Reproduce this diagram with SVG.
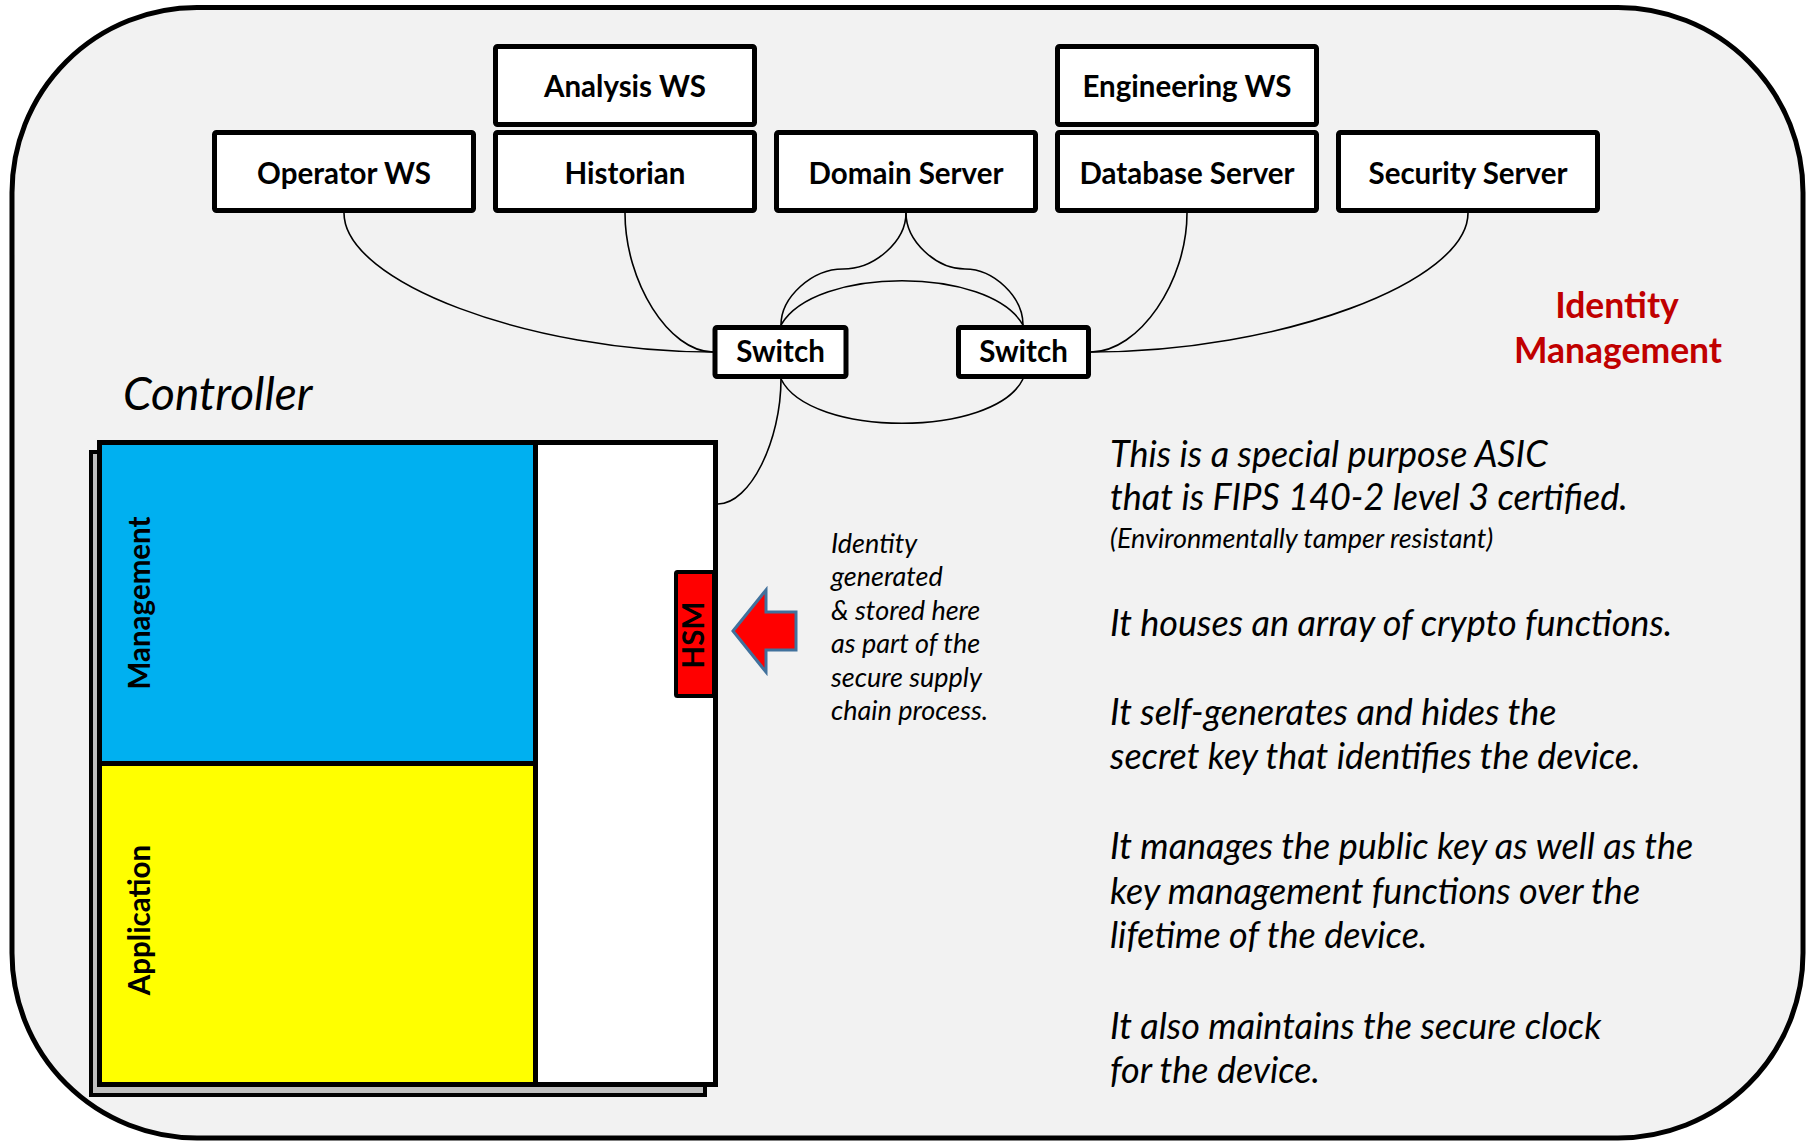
<svg xmlns="http://www.w3.org/2000/svg" width="1810" height="1141" viewBox="0 0 1810 1141">
  <style>
    .box { fill: #FFFFFF; stroke: #000000; stroke-width: 5; }
    .lbl { font-family: Lato, "Liberation Sans", sans-serif; font-weight: bold; font-size: 29.5px; fill: #000000; text-anchor: middle; }
    .wire { fill: none; stroke: #000000; stroke-width: 1.6; }
    .note { font-family: Lato, "Liberation Sans", sans-serif; font-style: italic; fill: #000000; }
    .side { font-size: 27px; }
    .body { font-size: 36px; }
    .small { font-size: 27px; }
  </style>

  <!-- frame -->
  <rect x="12" y="7.5" width="1791" height="1130.5" rx="185" ry="185" fill="#F2F2F2" stroke="#000000" stroke-width="5"/>

  <!-- connectors -->
  <g id="connectors">
    <path class="wire" d="M344,213 C344,282 529,352 713,352"/>
    <path class="wire" d="M625,213 C625,282 669,352 713,352"/>
    <path class="wire" d="M906,213 C906,241 875,269 843,269 C812,269 781,297 781,325"/>
    <path class="wire" d="M906,213 C906,241 936,269 965,269 C994,269 1023,297 1023,325"/>
    <path class="wire" d="M1187,213 C1187,282 1139,352 1091,352"/>
    <path class="wire" d="M1468,213 C1468,282 1280,352 1091,352"/>
    <path class="wire" d="M781,325 C815,266 989,266 1023,325"/>
    <path class="wire" d="M781,379 C810,438 994,438 1023,379"/>
    <path class="wire" d="M781,379 C781,441 750,504 718,504"/>
  </g>

  <!-- workstations and servers -->
  <g id="analysis-ws">
    <rect class="box" x="495.5" y="46.5" width="259" height="78" rx="2"/>
    <text class="lbl" x="625" y="97">Analysis WS</text>
  </g>
  <g id="engineering-ws">
    <rect class="box" x="1057.5" y="46.5" width="259" height="78" rx="2"/>
    <text class="lbl" x="1187" y="97">Engineering WS</text>
  </g>
  <g id="operator-ws">
    <rect class="box" x="214.5" y="132.5" width="259" height="78" rx="2"/>
    <text class="lbl" x="344" y="184">Operator WS</text>
  </g>
  <g id="historian">
    <rect class="box" x="495.5" y="132.5" width="259" height="78" rx="2"/>
    <text class="lbl" x="625" y="184">Historian</text>
  </g>
  <g id="domain-server">
    <rect class="box" x="776.5" y="132.5" width="259" height="78" rx="2"/>
    <text class="lbl" x="906" y="184">Domain Server</text>
  </g>
  <g id="database-server">
    <rect class="box" x="1057.5" y="132.5" width="259" height="78" rx="2"/>
    <text class="lbl" x="1187" y="184">Database Server</text>
  </g>
  <g id="security-server">
    <rect class="box" x="1338.5" y="132.5" width="259" height="78" rx="2"/>
    <text class="lbl" x="1468" y="184">Security Server</text>
  </g>

  <!-- switches -->
  <g id="switch-1">
    <rect class="box" x="715" y="327.5" width="131" height="49" rx="2"/>
    <text class="lbl" x="780.5" y="362">Switch</text>
  </g>
  <g id="switch-2">
    <rect class="box" x="958.5" y="327.5" width="130" height="49" rx="2"/>
    <text class="lbl" x="1023.5" y="362">Switch</text>
  </g>

  <!-- heading -->
  <g id="identity-management">
    <text x="1617" y="318" font-family="Lato, 'Liberation Sans', sans-serif" font-weight="bold" font-size="35.5" fill="#C00000" text-anchor="middle">Identity</text>
    <text x="1618" y="363" font-family="Lato, 'Liberation Sans', sans-serif" font-weight="bold" font-size="35.5" fill="#C00000" text-anchor="middle">Management</text>
  </g>

  <!-- controller -->
  <g id="controller">
    <text x="123" y="410" font-family="Lato, 'Liberation Sans', sans-serif" font-style="italic" font-size="46" fill="#000000">Controller</text>
    <rect x="91" y="452" width="614" height="643" fill="#BFBFBF" stroke="#000000" stroke-width="4"/>
    <rect x="99.5" y="442.5" width="616" height="642" fill="#FFFFFF" stroke="#000000" stroke-width="5"/>
    <rect x="99.5" y="442.5" width="436" height="321" fill="#00B0F0" stroke="#000000" stroke-width="5"/>
    <rect x="99.5" y="763.5" width="436" height="321" fill="#FFFF00" stroke="#000000" stroke-width="5"/>
    <text class="lbl" transform="translate(150,603) rotate(-90)" font-size="30.5">Management</text>
    <text class="lbl" transform="translate(150,920) rotate(-90)" font-size="30.5">Application</text>
  </g>

  <g id="hsm">
    <rect x="676" y="572" width="38" height="124" rx="1.5" fill="#FF0000" stroke="#000000" stroke-width="4"/>
    <text class="lbl" transform="translate(704,635) rotate(-90)" font-size="21">HSM</text>
  </g>

  <!-- block arrow pointing at the HSM -->
  <polygon id="hsm-arrow" points="733,631 766,590 766,612 796,612 796,650 766,650 766,672" fill="#FF0000" stroke="#41719C" stroke-width="3" stroke-linejoin="miter"/>

  <g id="hsm-note">
    <text class="note side" x="831" y="553">Identity</text>
    <text class="note side" x="831" y="586">generated</text>
    <text class="note side" x="831" y="620">&amp; stored here</text>
    <text class="note side" x="831" y="653">as part of the</text>
    <text class="note side" x="831" y="687">secure supply</text>
    <text class="note side" x="831" y="720">chain process.</text>
  </g>

  <g id="hsm-description">
    <text class="note body" x="1110" y="467">This is a special purpose ASIC</text>
    <text class="note body" x="1110" y="510">that is FIPS 140-2 level 3 certified.</text>
    <text class="note small" x="1110" y="548">(Environmentally tamper resistant)</text>
    <text class="note body" x="1110" y="636">It houses an array of crypto functions.</text>
    <text class="note body" x="1110" y="725">It self-generates and hides the</text>
    <text class="note body" x="1110" y="769">secret key that identifies the device.</text>
    <text class="note body" x="1110" y="859">It manages the public key as well as the</text>
    <text class="note body" x="1110" y="904">key management functions over the</text>
    <text class="note body" x="1110" y="948">lifetime of the device.</text>
    <text class="note body" x="1110" y="1039">It also maintains the secure clock</text>
    <text class="note body" x="1110" y="1083">for the device.</text>
  </g>
</svg>
